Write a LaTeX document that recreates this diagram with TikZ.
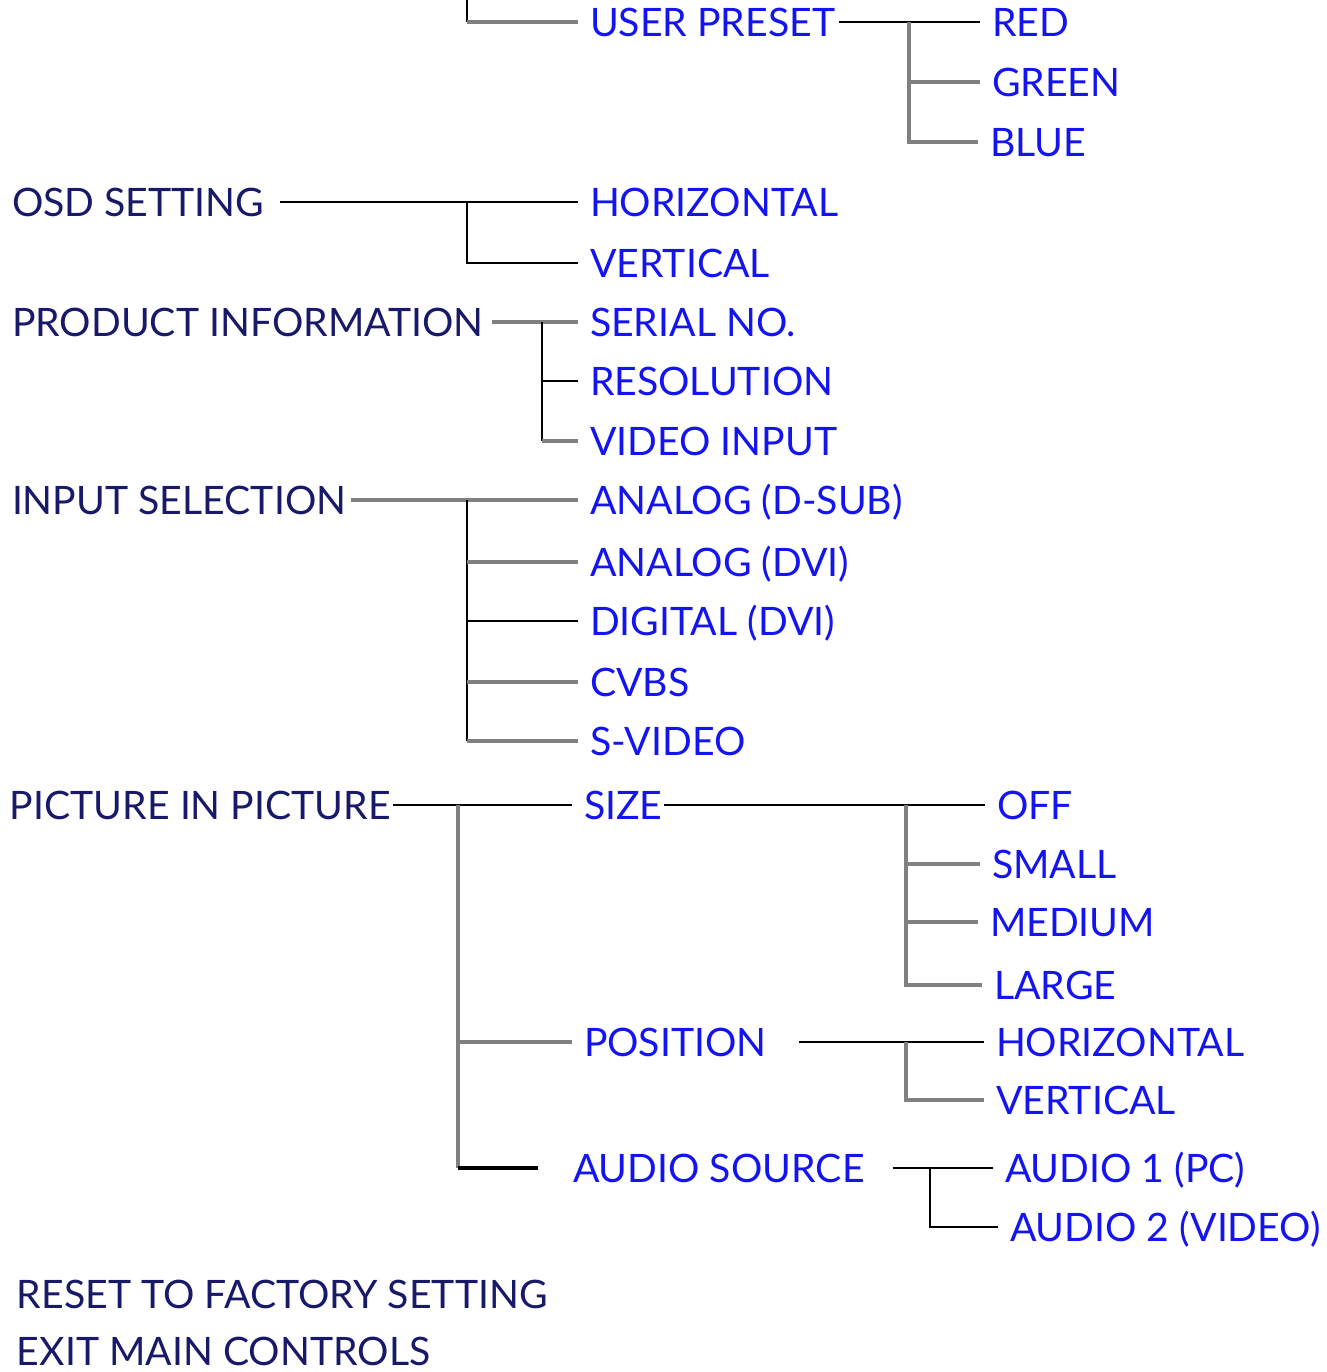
\documentclass[tikz,border=0pt]{standalone}
\usepackage{fontspec}
\setmainfont{Lato}
\usetikzlibrary{positioning}
\definecolor{osdnavy}{RGB}{25,25,105}
\definecolor{osdblue}{RGB}{20,20,240}
\definecolor{osdgrey}{RGB}{128,128,128}
\tikzset{
  main/.style={anchor=west,inner sep=0pt,outer sep=0pt,text=osdnavy,
    text height=14pt,text depth=0pt,font=\fontsize{19.6}{19.6}\selectfont},
  sub/.style={main,text=osdblue,outer xsep=6pt},
  blk/.style={black,line width=1pt},
  gry/.style={osdgrey,line width=2pt},
}

\begin{document}
\begin{tikzpicture}[x=0.5pt,y=-0.5pt]
  \useasboundingbox (0,0) rectangle (1327,1372);
  % user preset (continued from the page above)
  \coordinate (topJ) at (467,22);
  \coordinate (upreJ) at (909,22);
  \node[sub] (upre) at (578,22) {USER PRESET};
  \node[sub] (red) at (980,22) {RED};
  \node[sub] (green) at (980,82) {GREEN};
  \node[sub] (blue) at (978,142) {BLUE};
  \draw[blk] (topJ) -- ++(0,-30);
  \draw[gry] (topJ) -- (upre.west);
  \draw[blk] ([xshift=-4pt]upre.east) -- (red.west);
  \draw[gry] (upreJ) |- (blue.west);
  \draw[gry] (upreJ |- green.west) -- (green.west);

  % osd setting
  \coordinate (osdJ) at (467,202);
  \node[main] (osd) at (12,202) {OSD SETTING};
  \node[sub] (ohor) at (578,202) {HORIZONTAL};
  \node[sub] (over) at (578,263) {VERTICAL};
  \draw[blk] ([xshift=8pt]osd.east) -- (ohor.west);
  \draw[blk] (osdJ) |- (over.west);

  % product information
  \coordinate (pinfoJ) at (542,322);
  \node[main] (pinfo) at (12,322) {PRODUCT INFORMATION};
  \node[sub] (serial) at (578,322) {SERIAL NO.};
  \node[sub] (resol) at (578,381) {RESOLUTION};
  \node[sub] (vinput) at (578,441) {VIDEO INPUT};
  \draw[gry] ([xshift=4pt]pinfo.east) -- (serial.west);
  \draw[blk] (pinfoJ) -- (pinfoJ |- vinput.west);
  \draw[blk] (pinfoJ |- resol.west) -- (resol.west);
  \draw[gry] (pinfoJ |- vinput.west) -- (vinput.west);

  % input selection
  \coordinate (inselJ) at (467,500);
  \node[main] (insel) at (12,500) {INPUT SELECTION};
  \node[sub] (adsub) at (578,500) {ANALOG (D-SUB)};
  \node[sub] (advi) at (578,562) {ANALOG (DVI)};
  \node[sub] (ddvi) at (578,621) {DIGITAL (DVI)};
  \node[sub] (cvbs) at (578,682) {CVBS};
  \node[sub] (svideo) at (578,741) {S-VIDEO};
  \draw[gry] ([xshift=2.5pt]insel.east) -- (adsub.west);
  \draw[blk] (inselJ) -- (inselJ |- svideo.west);
  \draw[gry] (inselJ |- advi.west) -- (advi.west);
  \draw[blk] (inselJ |- ddvi.west) -- (ddvi.west);
  \draw[gry] (inselJ |- cvbs.west) -- (cvbs.west);
  \draw[gry] (inselJ |- svideo.west) -- (svideo.west);

  % picture in picture
  \coordinate (pipJ) at (458,805);
  \node[main] (pip) at (10,805) {PICTURE IN PICTURE};
  \node[sub] (size) at (572,805) {SIZE};
  \node[sub] (posn) at (572,1042) {POSITION};
  \node[sub] (asrc) at (561,1168) {AUDIO SOURCE};
  \draw[blk] ([xshift=1pt]pip.east) -- (size.west);
  \draw[gry] (pipJ) -- (pipJ |- asrc.west);
  \draw[gry] (pipJ |- posn.west) -- (posn.west);
  \draw[black,line width=1.6pt] (pipJ |- asrc.west) -- ([xshift=-11.5pt]asrc.west);

  % size
  \coordinate (sizeJ) at (906,805);
  \node[sub] (off) at (985,805) {OFF};
  \node[sub] (small) at (980,864) {SMALL};
  \node[sub] (medium) at (978,922) {MEDIUM};
  \node[sub] (large) at (982,985) {LARGE};
  \draw[blk] ([xshift=-5pt]size.east) -- (off.west);
  \draw[gry] (sizeJ) |- (large.west);
  \draw[gry] (sizeJ |- small.west) -- (small.west);
  \draw[gry] (sizeJ |- medium.west) -- (medium.west);

  % position
  \coordinate (posnJ) at (906,1042);
  \node[sub] (phor) at (984,1042) {HORIZONTAL};
  \node[sub] (pver) at (984,1100) {VERTICAL};
  \draw[blk] ([xshift=10pt]posn.east) -- (phor.west);
  \draw[gry] (posnJ) |- (pver.west);

  % audio source
  \coordinate (asrcJ) at (930,1168);
  \node[sub] (aud1) at (993,1168) {AUDIO 1 (PC)};
  \node[sub] (aud2) at (998,1227) {AUDIO 2 (VIDEO)};
  \draw[blk] ([xshift=8pt]asrc.east) -- (aud1.west);
  \draw[blk] (asrcJ) |- (aud2.west);

  \node[main] (reset) at (17,1294) {RESET TO FACTORY SETTING};
  \node[main] (exitm) at (17,1351) {EXIT MAIN CONTROLS};
\end{tikzpicture}
\end{document}
